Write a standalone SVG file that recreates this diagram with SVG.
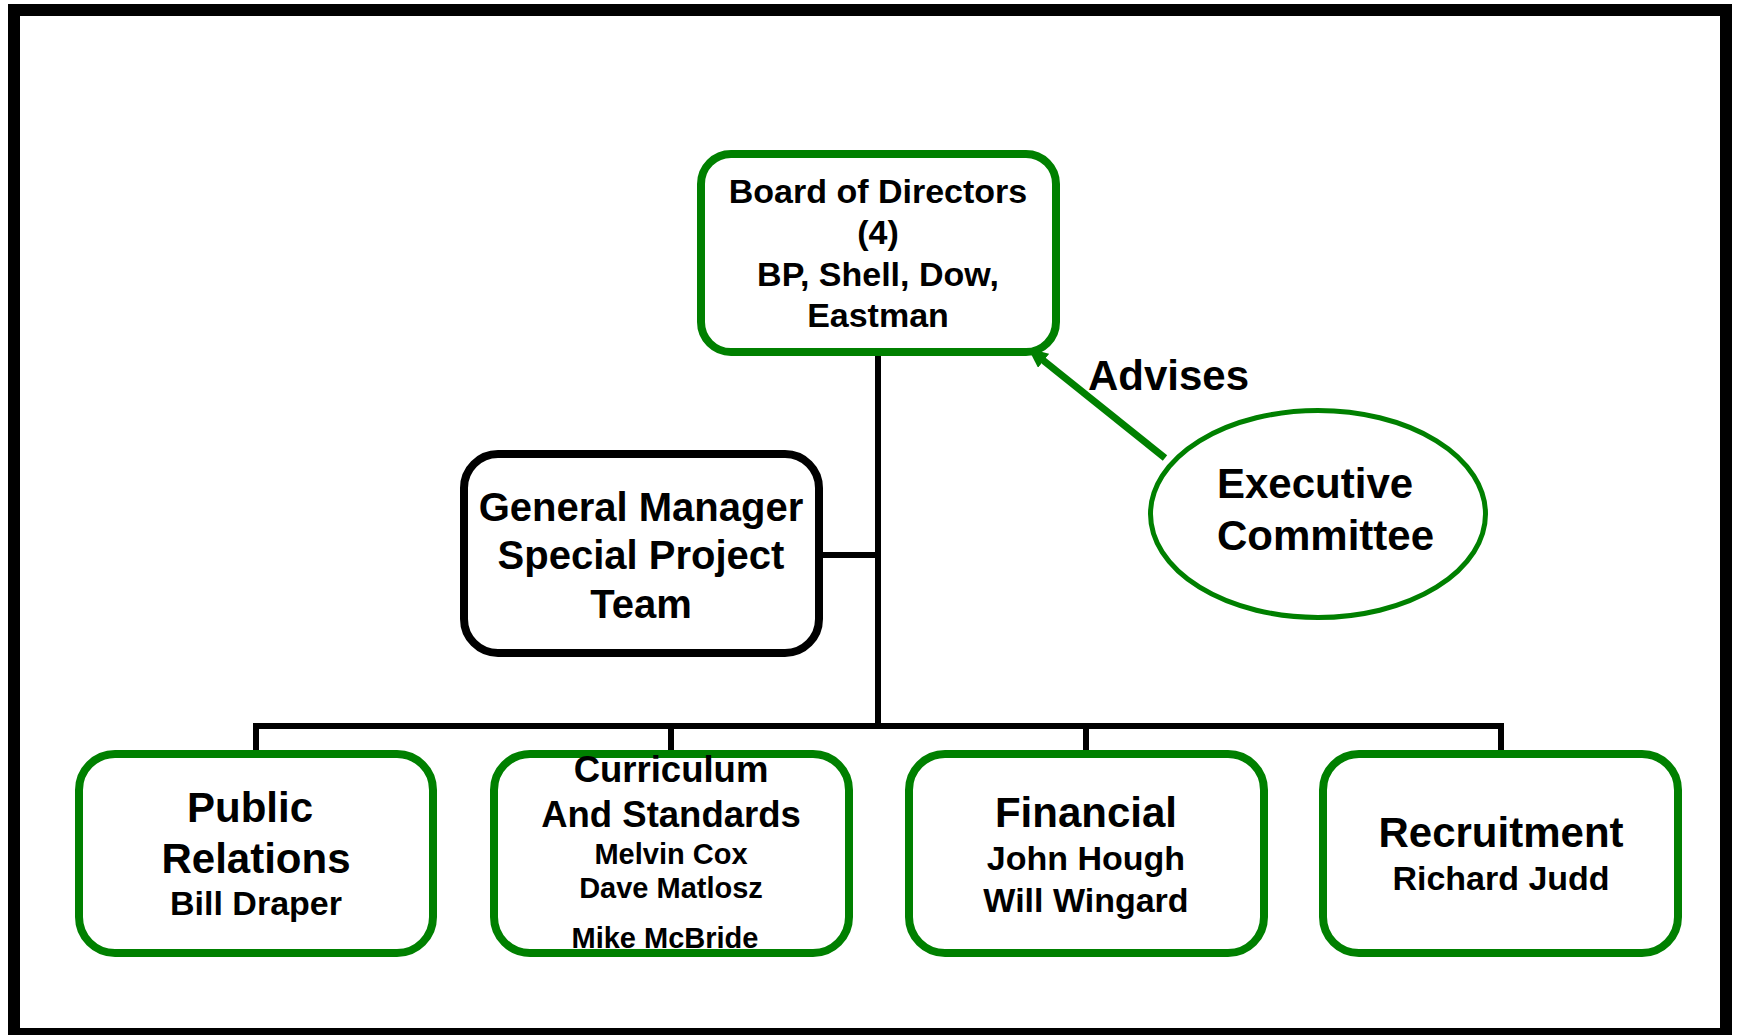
<svg xmlns="http://www.w3.org/2000/svg" width="1738" height="1035" viewBox="0 0 1738 1035">
<style>
.t{font-family:"Liberation Sans",Arial,sans-serif;font-weight:bold;fill:#000;text-anchor:middle}
.g{fill:#fff;stroke:#008000;stroke-width:8}
.k{fill:#fff;stroke:#000;stroke-width:8}
.c{fill:none;stroke:#000;stroke-width:6}
</style>
<defs>
<marker id="ah" viewBox="0 0 20 18" refX="6" refY="9" markerWidth="20" markerHeight="18" markerUnits="userSpaceOnUse" orient="auto">
<path d="M0,0 L20,9 L0,18 z" fill="#008000"/>
</marker>
</defs>
<rect x="0" y="0" width="1738" height="1035" fill="#fff"/>
<rect x="14" y="10" width="1712" height="1024" fill="none" stroke="#000" stroke-width="12"/>
<g id="connectors">
<path class="c" d="M878,354 V726 M256,726 H1501 M256,723 V752 M671,723 V752 M1086,723 V752 M1501,723 V752 M821,555 H878"/>
<line x1="1165" y1="458" x2="1039" y2="357" stroke="#008000" stroke-width="7" marker-end="url(#ah)"/>
<text class="t" x="1088" y="390" style="text-anchor:start" font-size="42">Advises</text>
</g>
<g id="board">
<rect class="g" x="701" y="154" width="355" height="198" rx="30"/>
<text class="t" font-size="34"><tspan x="878" y="203">Board of Directors</tspan><tspan x="878" y="244">(4)</tspan><tspan x="878" y="286">BP, Shell, Dow,</tspan><tspan x="878" y="327">Eastman</tspan></text>
</g>
<g id="exec">
<ellipse cx="1318" cy="514" rx="167.5" ry="103.5" fill="#fff" stroke="#008000" stroke-width="5"/>
<text class="t" font-size="42" style="text-anchor:start"><tspan x="1217" y="498">Executive</tspan><tspan x="1217" y="550">Committee</tspan></text>
</g>
<g id="gm">
<rect class="k" x="464" y="454" width="355" height="199" rx="34"/>
<text class="t" font-size="40"><tspan x="641" y="521">General Manager</tspan><tspan x="641" y="569">Special Project</tspan><tspan x="641" y="618">Team</tspan></text>
</g>
<g id="pr">
<rect class="g" x="79" y="754" width="354" height="199" rx="36"/>
<text class="t"><tspan x="250" y="822" font-size="42">Public</tspan><tspan x="256" y="873" font-size="42">Relations</tspan><tspan x="256" y="915" font-size="34">Bill Draper</tspan></text>
</g>
<g id="cs">
<rect class="g" x="494" y="754" width="355" height="199" rx="36"/>
<text class="t"><tspan x="671" y="782" font-size="36.5">Curriculum</tspan><tspan x="671" y="827" font-size="36.5">And Standards</tspan><tspan x="671" y="864" font-size="29">Melvin Cox</tspan><tspan x="671" y="898" font-size="29">Dave Matlosz</tspan><tspan x="665" y="948" font-size="29">Mike McBride</tspan></text>
</g>
<g id="fin">
<rect class="g" x="909" y="754" width="355" height="199" rx="36"/>
<text class="t"><tspan x="1086" y="827" font-size="42">Financial</tspan><tspan x="1086" y="870" font-size="34">John Hough</tspan><tspan x="1086" y="912" font-size="34">Will Wingard</tspan></text>
</g>
<g id="rec">
<rect class="g" x="1323" y="754" width="355" height="199" rx="36"/>
<text class="t"><tspan x="1501" y="847" font-size="42">Recruitment</tspan><tspan x="1501" y="890" font-size="34">Richard Judd</tspan></text>
</g>
</svg>
